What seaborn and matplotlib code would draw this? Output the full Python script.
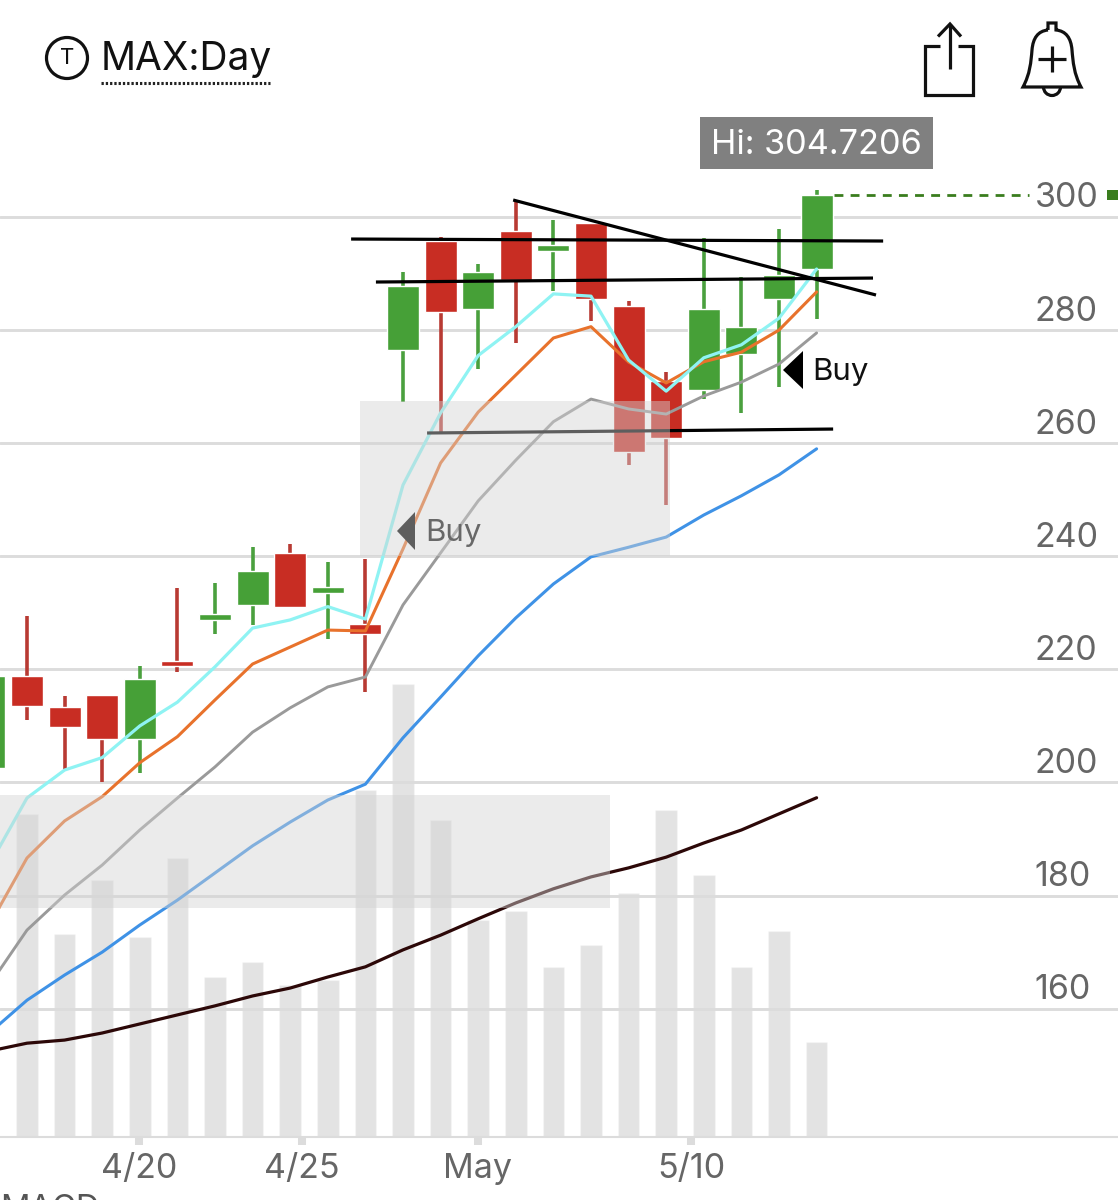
import matplotlib
matplotlib.use("Agg")
import matplotlib.pyplot as plt
from matplotlib.patches import Rectangle, Polygon, Circle, PathPatch, Arc
from matplotlib.path import Path
from matplotlib.transforms import Affine2D, ScaledTranslation
import seaborn as sns
import pandas as pd

sns.set_theme(style="white")
plt.rcParams["font.family"] = ["Inter", "Liberation Sans", "DejaVu Sans"]

# ---- data -------------------------------------------------------------
days = list(range(23))
opens = [202.6, 218.9, 213.35, 215.5, 207.7, 221.5, 228.7, 231.4, 240.6, 233.5, 228.0, 276.5,
         295.75, 283.7, 297.5, 293.9, 299.0, 284.25, 271.05, 269.4, 275.8, 285.55, 290.8]
closes = [218.9, 213.6, 209.9, 207.7, 218.3, 220.65, 229.8, 237.45, 231.0, 234.6, 226.25, 287.8,
          283.2, 290.3, 288.85, 295.1, 285.5, 258.5, 260.9, 283.7, 280.55, 289.75, 303.9]
highs = [218.9, 229.44, 215.35, 215.5, 220.6, 234.4, 235.3, 241.65, 242.2, 239.0, 239.5, 290.3,
         296.45, 291.6, 303.0, 299.5, 299.0, 285.15, 272.5, 296.3, 289.3, 297.9, 304.72]
lows = [202.6, 211.05, 202.4, 200.1, 201.7, 219.5, 226.25, 227.85, 230.85, 225.4, 216.0, 267.3,
        261.8, 273.1, 277.7, 286.9, 281.6, 256.15, 249.1, 267.9, 265.3, 269.9, 282.0]
ma_cyan = [185.4, 197.26, 202.2, 204.4, 210.0, 214.2, 220.45, 227.3, 228.75, 231.1, 228.9, 252.6,
           265.35, 275.5, 280.6, 286.4, 286.0, 274.7, 269.2, 275.1, 277.4, 282.1, 290.8]
ma_orange = [174.8, 186.65, 193.2, 197.5, 203.5, 208.1, 214.6, 220.95, 223.95, 226.95, 226.8, 241.3,
             256.5, 265.5, 272.05, 278.6, 280.6, 274.35, 270.65, 274.4, 276.1, 280.0, 286.75]
ma_gray = [164.2, 173.9, 180.1, 185.4, 191.6, 197.25, 202.75, 208.9, 213.2, 216.9, 218.65, 231.4,
           240.6, 249.8, 257.0, 263.8, 267.8, 266.05, 265.15, 268.35, 270.8, 274.0, 279.5]
ma_blue = [155.7, 161.5, 165.95, 170.0, 174.8, 179.2, 184.0, 188.8, 193.0, 196.9, 199.7, 207.9,
           215.1, 222.4, 229.1, 235.1, 239.9, 241.6, 243.4, 247.3, 250.7, 254.4, 259.0]
ma_dark = [152.5, 153.9, 154.45, 155.7, 157.3, 158.9, 160.5, 162.25, 163.65, 165.6, 167.4, 170.4,
           173.0, 175.9, 178.7, 181.2, 183.3, 184.9, 186.8, 189.3, 191.6, 194.45, 197.3]
vol_days = days[1:]
volumes = [3.23, 2.03, 2.57, 2.00, 2.79, 1.60, 1.75, 1.52, 1.57, 3.47, 4.53, 3.17,
           2.17, 2.26, 1.70, 1.92, 2.44, 3.27, 2.62, 1.70, 2.06, 0.95]
price_ticks = [160, 180, 200, 220, 240, 260, 280, 300]
date_ticks = [3.98, 8.31, 12.99, 18.66]
date_labels = ["4/20", "4/25", "May", "5/10"]
last_close = 303.9
# hand-drawn trend lines: (x0, x1), (y0, y1)
drawn_lines = [((9.62, 23.77), (296.1, 295.75)),
               ((13.93, 23.58), (303.0, 286.2)),
               ((10.28, 23.5), (288.5, 289.2)),
               ((11.64, 22.44), (261.8, 262.5))]
# shaded zones: x0, x1, y0, y1
zones = [(9.86, 18.1, 240.0, 267.4), (0.0, 16.5, 177.8, 197.8)]

GREEN, RED, RED_W, GREEN_W = "#46a037", "#c82d23", "#b83a33", "#4aa03e"
TICK = "#666666"
XLIM = (0.282, 30.016)
YLIM = (137.31, 338.37)

fig = plt.figure(figsize=(11.18, 12.0), dpi=100, facecolor="white")
rect = [0, 63 / 1200, 1, 1137 / 1200]
vax = fig.add_axes(rect)
ax = fig.add_axes(rect)
ax.patch.set_alpha(0)

# pixel transform for the app chrome (origin at top left)
PX = Affine2D().scale(1 / 1118, -1 / 1200).translate(0, 1) + fig.transFigure

# volume
sns.barplot(x=vol_days, y=volumes, native_scale=True, width=0.57, color="#808080",
            saturation=1, alpha=0.22, ax=vax)
vax.set_xlim(*XLIM)
vax.set_ylim(0, 11.37)
vax.axis("off")

# candles
ax.vlines(days, lows, highs,
          colors=[GREEN_W if c > o else RED_W for o, c in zip(opens, closes)],
          linewidth=2.6, zorder=2)
ax.bar(days, [abs(c - o) for o, c in zip(opens, closes)], bottom=[min(o, c) for o, c in zip(opens, closes)],
       width=0.85, color=[GREEN if c > o else RED for o, c in zip(opens, closes)], zorder=2.1)

# moving averages
frame = pd.DataFrame(dict(day=days, cyan=ma_cyan, orange=ma_orange, gray=ma_gray, blue=ma_blue, dark=ma_dark))
for name, col, lw in [("dark", "#2c0808", 2.3), ("blue", "#3f92e6", 2.2), ("gray", "#9a9a9a", 2.1),
                      ("orange", "#e8722c", 2.2), ("cyan", "#8ff3f3", 2.3)]:
    sns.lineplot(data=frame, x="day", y=name, color=col, linewidth=lw, errorbar=None, ax=ax, zorder=3)

for xs, ys in drawn_lines:
    ax.plot(xs, ys, color="black", linewidth=2.3, zorder=4, solid_capstyle="butt")

ax.plot([22.45, 27.65], [last_close, last_close], color="#3a7d1e", linewidth=2.0,
        linestyle=(0, (3.2, 2.6)), zorder=4)

# buy markers
for verts, tx, ty in [([(397, 531), (415, 512), (415, 550)], 425, 533),
                      ([(783, 370), (803, 351), (803, 389)], 812, 372)]:
    ax.add_patch(Polygon(verts, closed=True, facecolor="black", edgecolor="none", transform=PX, zorder=4.2))
    ax.text(tx, ty, "Buy", transform=PX, fontsize=22.5, color="#111111", ha="left", va="center", zorder=4.2)

for x0, x1, y0, y1 in zones:
    ax.add_patch(Rectangle((x0, y0), x1 - x0, y1 - y0, facecolor="#d3d3d3", alpha=0.45,
                           edgecolor="none", zorder=5))

# axes furniture
ax.set_xlim(*XLIM)
ax.set_ylim(*YLIM)
ax.set_xlabel("")
ax.set_ylabel("")
ax.set_yticks(price_ticks)
ax.set_yticklabels([str(v) for v in price_ticks])
ax.set_xticks(date_ticks)
ax.set_xticklabels(date_labels)
ax.grid(axis="y", color="#dcdcdc", linewidth=2.1)
ax.grid(axis="x", visible=False)
ax.set_axisbelow(True)
for side in ["top", "left", "right"]:
    ax.spines[side].set_visible(False)
ax.spines["bottom"].set_color("#dcdcdc")
ax.spines["bottom"].set_linewidth(1.5)
ax.tick_params(axis="x", bottom=True, length=5.5, width=5.8, color="#dcdcdc", labelsize=24.5,
               labelcolor=TICK, pad=6)
ax.tick_params(axis="y", left=False, right=False, labelleft=False, labelright=True, labelsize=24.5,
               labelcolor=TICK, pad=-66)
for lab in ax.get_yticklabels():
    lab.set_transform(lab.get_transform() + ScaledTranslation(0, 22 / 100, fig.dpi_scale_trans))

# last price marker
ax.add_patch(Rectangle((1107, 190), 11, 10, facecolor="#3a7d1e", edgecolor="none", transform=PX, clip_on=False))

# high tag
ax.add_patch(Rectangle((700, 117), 233, 52, facecolor="#808080", edgecolor="none", transform=PX, zorder=6))
ax.text(816, 145, "Hi: 304.7206", transform=PX, fontsize=24.7, color="white", ha="center", va="center", zorder=7)

# header
ax.add_patch(Circle((67, 58), 20.5, facecolor="none", edgecolor="#111111", linewidth=2.3, transform=PX))
ax.text(67, 58, "T", transform=PX, fontsize=16, color="#111111", ha="center", va="center")
ax.text(101, 59, "MAX:Day", transform=PX, fontsize=28, color="#111111", ha="left", va="center")
ax.plot([101, 270], [83, 83], transform=PX, color="#222222", linewidth=2.2, linestyle=(0, (0.75, 0.65)))

# share icon
ink = dict(transform=PX, color="#111111", linewidth=2.3, solid_capstyle="butt", solid_joinstyle="miter")
ax.plot([940, 924.5, 924.5, 973, 973, 958], [45.5, 45.5, 95, 95, 45.5, 45.5], **ink)
ax.plot([950, 950], [24, 69], **ink)
ax.plot([938, 950, 961], [36.5, 24, 36.5], **ink)

# bell icon
bell = [(1048, 30), (1048, 23), (1056, 23), (1056, 30),
        (1066, 31), (1071, 38), (1072, 50),
        (1073, 62), (1074, 74), (1081, 87),
        (1023, 87),
        (1030, 74), (1031, 62), (1032, 50),
        (1033, 38), (1038, 31), (1048, 30)]
codes = [Path.MOVETO, Path.LINETO, Path.LINETO, Path.LINETO,
         Path.CURVE4, Path.CURVE4, Path.CURVE4,
         Path.CURVE4, Path.CURVE4, Path.CURVE4,
         Path.LINETO,
         Path.CURVE4, Path.CURVE4, Path.CURVE4,
         Path.CURVE4, Path.CURVE4, Path.CURVE4]
ax.add_patch(PathPatch(Path(bell, codes), facecolor="none", edgecolor="#111111", linewidth=2.3, transform=PX))
ax.plot([1038, 1066], [59, 59], **ink)
ax.plot([1052, 1052], [46, 72], **ink)
ax.add_patch(Arc((1052, 87), 17, 17, theta1=0, theta2=180, edgecolor="#111111", linewidth=2.3, transform=PX))

# next pane title, cut off by the bottom edge
ax.text(0, 1194, "MACD", transform=PX, fontsize=23.5, color="#555555", ha="left", va="top", clip_on=False)

fig.savefig("out.png", dpi=100)
